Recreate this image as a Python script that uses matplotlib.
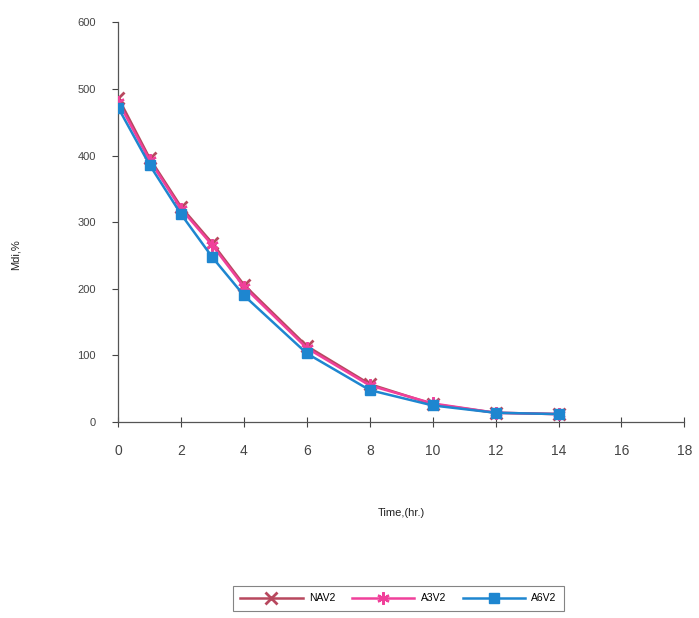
import matplotlib
matplotlib.use("Agg")
import matplotlib.pyplot as plt

plt.rcParams['font.family'] = ['Liberation Sans', 'DejaVu Sans']

# Time points (hr)
time = [0, 1, 2, 3, 4, 6, 8, 10, 12, 14]

# Mdi,% per formulation
nav2 = [487, 396, 323, 268, 206, 114, 57, 27, 14, 12]
a3v2 = [481, 393, 320, 265, 203, 111, 55, 28, 14, 12]
a6v2 = [472, 386, 312, 247, 190, 103, 48, 25, 14, 12]

fig = plt.figure(figsize=(6.99, 6.18), dpi=100)
ax = fig.add_axes([0.169, 0.317, 0.810, 0.647])

ax.plot(time, nav2, color='#b8485e', lw=1.8, marker='x', ms=8, mew=2,
        label='NAV2', zorder=2)
ax.plot(time, a3v2, color='#f0409a', lw=1.8, marker=(6, 2, 0), ms=9, mew=1.6,
        label='A3V2', zorder=3)
ax.plot(time, a6v2, color='#1e86d0', lw=1.8, marker='s', ms=7,
        label='A6V2', zorder=4)

ax.set_xlim(0, 18)
ax.set_ylim(0, 600)
ax.set_xticks(range(0, 19, 2))
ax.set_yticks(range(0, 601, 100))

for s in ['top', 'right']:
    ax.spines[s].set_visible(False)
for s in ['left', 'bottom']:
    ax.spines[s].set_color('#555555')
    ax.spines[s].set_linewidth(0.9)

ax.tick_params(axis='y', direction='out', length=4, labelsize=8,
               colors='#444444', pad=12)
ax.tick_params(axis='x', direction='inout', length=7, labelsize=10,
               colors='#444444', pad=12)

ax.set_xlabel('Time,(hr.)', fontsize=8, color='#222222', labelpad=36)
ax.set_ylabel('Mdi,%', fontsize=8, color='#222222')
ax.yaxis.set_label_coords(-0.172, 0.42)

leg = fig.legend(loc='center', bbox_to_anchor=(0.57, 0.032), ncol=3,
                 fontsize=7.5, frameon=True, fancybox=False, edgecolor='#666666',
                 handlelength=6, columnspacing=1.6, handletextpad=0.6,
                 borderpad=0.7)
leg.get_frame().set_linewidth(0.8)

fig.savefig('out.png', dpi=100)
